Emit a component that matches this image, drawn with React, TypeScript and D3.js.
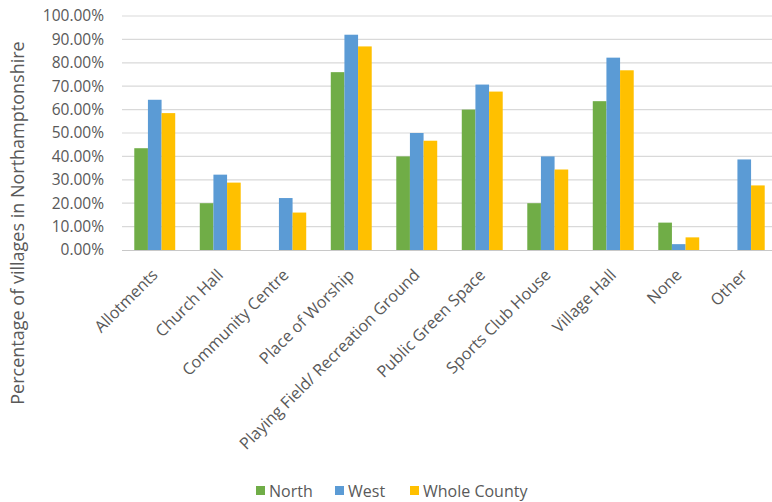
import React from "react";
import * as d3 from "d3";

const categories = [
  "Allotments",
  "Church Hall",
  "Community Centre",
  "Place of Worship",
  "Playing Field/ Recreation Ground",
  "Public Green Space",
  "Sports Club House",
  "Village Hall",
  "None",
  "Other",
];
const seriesNames = ["North", "West", "Whole County"];
const north = [0.435, 0.2, 0, 0.76, 0.4, 0.6, 0.2, 0.636, 0.117, 0];
const west = [0.642, 0.322, 0.222, 0.92, 0.5, 0.707, 0.4, 0.822, 0.025, 0.387];
const whole = [0.585, 0.288, 0.16, 0.87, 0.467, 0.677, 0.344, 0.768, 0.054, 0.276];
const yTicks = [0, 0.1, 0.2, 0.3, 0.4, 0.5, 0.6, 0.7, 0.8, 0.9, 1.0];
const colors = ["#70AD47", "#5B9BD5", "#FFC000"];

const W = 772;
const H = 502;
const FONT = "'Open Sans', sans-serif";
const TEXT = "#595959";

export default function App() {
  const values = [north, west, whole];
  const x = d3.scaleBand<string>().domain(categories).range([122, 777]).padding(0);
  const xs = d3
    .scaleBand<string>()
    .domain(seriesNames)
    .range([0, x.bandwidth()])
    .paddingInner(0)
    .paddingOuter(0.9);
  const y = d3.scaleLinear().domain([0, 1]).range([250, 16]);
  const fmt = d3.format(".2%");

  const legendItems = [
    { name: "North", sx: 256, tx: 269 },
    { name: "West", sx: 335, tx: 348 },
    { name: "Whole County", sx: 410, tx: 423 },
  ];

  return (
    <svg
      width={W}
      height={H}
      style={{ position: "absolute", left: 0, top: 0, background: "#fff" }}
      fontFamily={FONT}
    >
      <rect x={0} y={0} width={W} height={H} fill="#fff" />
      {yTicks.map((t) => (
        <g key={t}>
          {t > 0 && (
            <line x1={122} x2={W} y1={y(t)} y2={y(t)} stroke="#D9D9D9" strokeWidth={1.2} />
          )}
          <text
            x={104}
            y={y(t)}
            dy="0.35em"
            textAnchor="end"
            fontSize={15.5}
            fill={TEXT}
          >
            {fmt(t)}
          </text>
        </g>
      ))}
      {categories.map((c, i) => (
        <g key={c} transform={`translate(${x(c)},0)`}>
          {seriesNames.map((s, j) =>
            values[j][i] > 0 ? (
              <rect
                key={s}
                x={xs(s)}
                y={y(values[j][i])}
                width={xs.bandwidth()}
                height={y(0) - y(values[j][i])}
                fill={colors[j]}
              />
            ) : null
          )}
        </g>
      ))}
      <line x1={122} x2={W} y1={y(0) + 0.5} y2={y(0) + 0.5} stroke="#C8C8C8" strokeWidth={1.2} />
      {categories.map((c) => {
        const cx = (x(c) as number) + x.bandwidth() / 2 + 4;
        const cy = y(0) + 26;
        return (
          <text
            key={c}
            transform={`translate(${cx},${cy}) rotate(-45)`}
            textAnchor="end"
            fontSize={16.2}
            fill={TEXT}
          >
            {c}
          </text>
        );
      })}
      <text
        transform={`translate(24,223) rotate(-90)`}
        textAnchor="middle"
        fontSize={18}
        fill={TEXT}
      >
        Percentage of villages in Northamptonshire
      </text>
      {legendItems.map((l, i) => (
        <g key={l.name}>
          <rect x={l.sx} y={486} width={9} height={9} fill={colors[i]} />
          <text x={l.tx} y={491} dy="0.35em" fontSize={16} fill={TEXT}>
            {l.name}
          </text>
        </g>
      ))}
    </svg>
  );
}
